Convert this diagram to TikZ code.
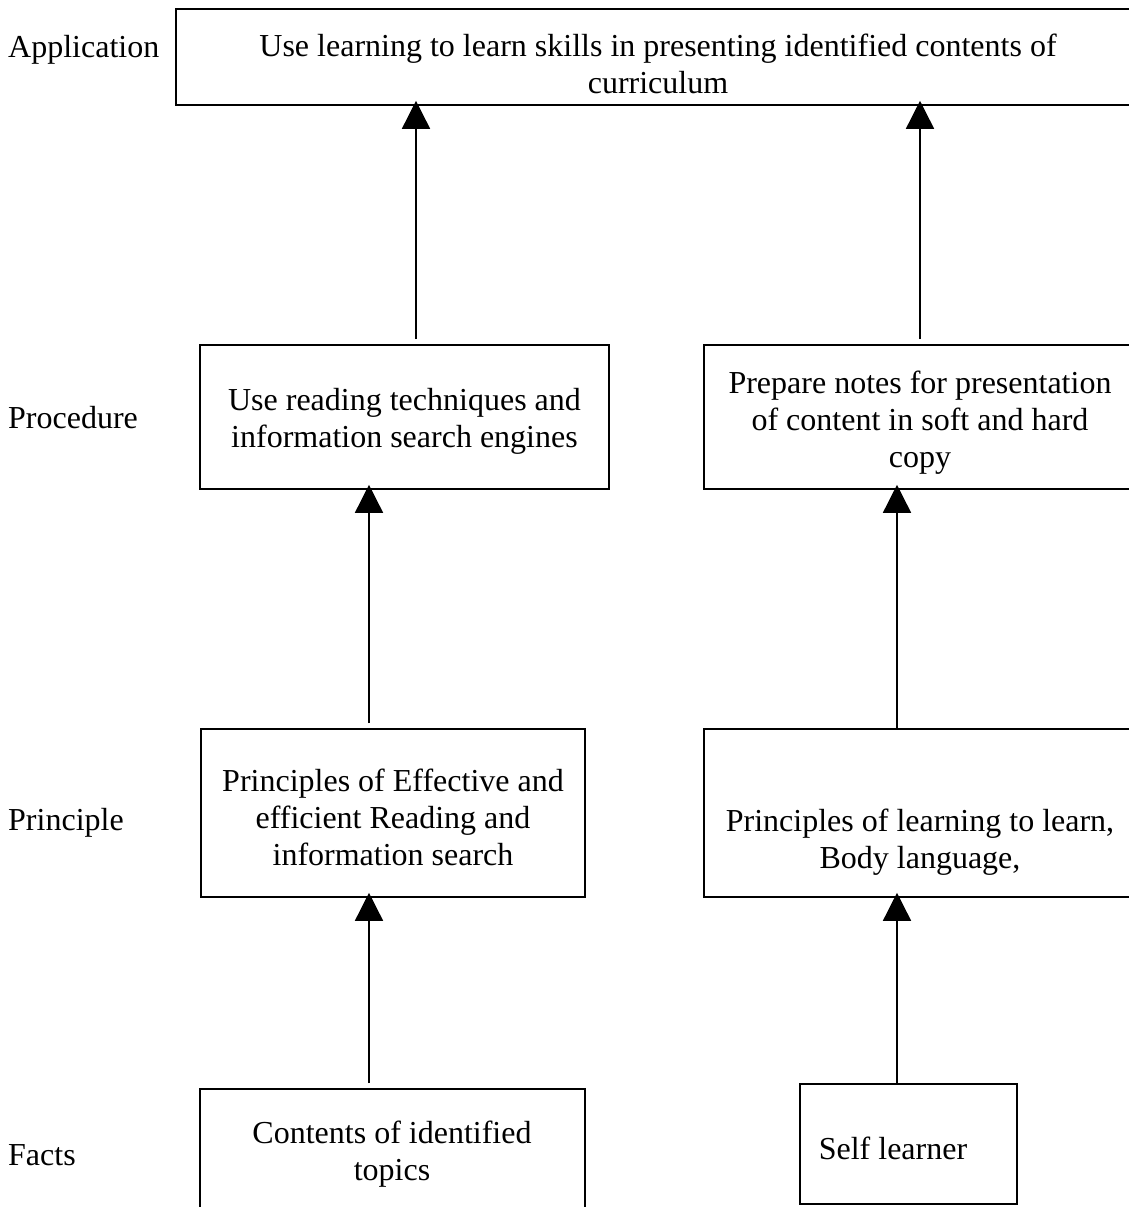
\documentclass[tikz,border=0pt]{standalone}
\usepackage{fontspec}
\setmainfont{Liberation Serif}
\usetikzlibrary{arrows.meta}
\begin{document}
\begin{tikzpicture}[x=1pt,y=1pt,
  every node/.style={font=\fontsize{32}{37}\selectfont, inner sep=0pt},
  box/.style={draw, line width=1.6pt, minimum width=#1},
  lab/.style={anchor=west},
  txt/.style={align=center},
  arr/.style={line width=1.5pt, -{Triangle[width=28pt,length=28pt]}}]
\clip (0,0) rectangle (1129,1207);
\useasboundingbox (0,0) rectangle (1129,1207);
% boxes
\node[box=964pt, minimum height=96pt] (top) at (658,1150) {};
\node[box=409pt, minimum height=144pt] (prl) at (404.5,790) {};
\node[box=432pt, minimum height=144pt] (prr) at (920,790) {};
\node[box=384pt, minimum height=168pt] (pnl) at (393,394) {};
\node[box=432pt, minimum height=168pt] (pnr) at (920,394) {};
\node[box=385pt, minimum height=141pt] (fl) at (392.5,47.5) {};
\node[box=217pt, minimum height=120pt] (fr) at (908.5,63) {};
% texts
\node[txt] (ttop) at (658,1143) {Use learning to learn skills in presenting identified contents of\\curriculum};
\node[txt] (tprl) at (404.5,786) {Use reading techniques and\\information search engines};
\node[txt] (tprr) at (920,784) {Prepare notes for presentation\\of content in soft and hard\\copy};
\node[txt] (tpnl) at (393,390) {Principles of Effective and\\efficient Reading and\\information search};
\node[txt] (tpnr) at (920,365) {Principles of learning to learn,\\Body language,};
\node[txt] (tfl) at (392,53) {Contents of identified\\topics};
\node[txt] (tfr) at (893,59) {Self learner};
% level labels
\node[lab] (l1) at (8,1157) {Application};
\node[lab] (l2) at (8,789) {Procedure};
\node[lab] (l3) at (8,384) {Principle};
\node[lab] (l4) at (8,52) {Facts};
% arrows
\draw[arr] ([yshift=5pt]prl.north -| 416,0) -- ([yshift=5pt]top.south -| 416,0);
\draw[arr] ([yshift=5pt]prr.north -| 920,0) -- ([yshift=5pt]top.south -| 920,0);
\draw[arr] ([yshift=5pt]pnl.north -| 369,0) -- ([yshift=5pt]prl.south -| 369,0);
\draw[arr] (pnr.north -| 897,0) -- ([yshift=5pt]prr.south -| 897,0);
\draw[arr] ([yshift=5pt]fl.north -| 369,0) -- ([yshift=5pt]pnl.south -| 369,0);
\draw[arr] (fr.north -| 897,0) -- ([yshift=5pt]pnr.south -| 897,0);
\end{tikzpicture}
\end{document}
